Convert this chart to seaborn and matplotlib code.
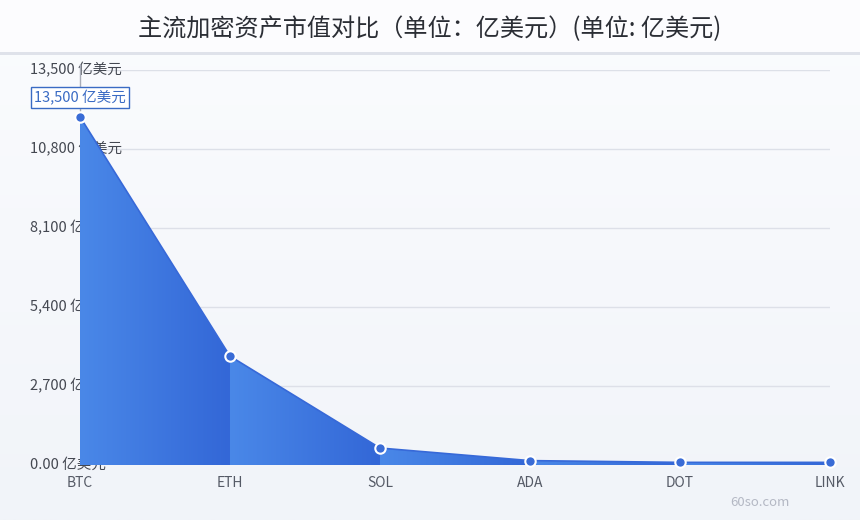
import numpy as np
import pandas as pd
import matplotlib
matplotlib.use("Agg")
import matplotlib.pyplot as plt
import seaborn as sns
from matplotlib.colors import LinearSegmentedColormap
from matplotlib.patches import Polygon, Rectangle

# data (亿美元)
coins = ["BTC", "ETH", "SOL", "ADA", "DOT", "LINK"]
market_cap = [11900, 3720, 580, 150, 90, 90]
y_ticks = [0, 2700, 5400, 8100, 10800, 13500]
y_tick_labels = ["0.00 亿美元", "2,700 亿美元", "5,400 亿美元",
                 "8,100 亿美元", "10,800 亿美元", "13,500 亿美元"]
callout_text = "13,500 亿美元"
title = "主流加密资产市值对比（单位：亿美元）(单位: 亿美元)"

sns.set_theme(style="white")
plt.rcParams["font.family"] = ["Noto Sans CJK SC", "DejaVu Sans"]

df = pd.DataFrame({"coin": coins, "cap": market_cap, "pos": np.arange(len(coins))})

fig = plt.figure(figsize=(8.6, 5.2), dpi=100)

# page background: soft vertical gradient + title bar
bg = fig.add_axes([0, 0, 1, 1], zorder=-10)
bg_cmap = LinearSegmentedColormap.from_list("bg", ["#f1f4f9", "#fbfcfe"])
bg.imshow(np.linspace(0, 1, 256).reshape(-1, 1), cmap=bg_cmap, aspect="auto",
          origin="lower", extent=[0, 1, 0, 1])
bg.add_patch(Rectangle((0, 1 - 52 / 520), 1, 52 / 520, color="#fcfcfe", lw=0))
bg.add_patch(Rectangle((0, 1 - 55 / 520), 1, 3 / 520, color="#dfe2ea", lw=0))
bg.set_xlim(0, 1)
bg.set_ylim(0, 1)
bg.axis("off")

ax = fig.add_axes([80 / 860, 1 - 465 / 520, 750 / 860, 395 / 520])
ax.patch.set_alpha(0)

# gradient area, one piece per segment
fill_cmap = LinearSegmentedColormap.from_list("fill", ["#4a88e8", "#3367d7"])
grad = np.linspace(0, 1, 256).reshape(1, -1)
for i in range(len(coins) - 1):
    verts = [(i, 0), (i, market_cap[i]), (i + 1, market_cap[i + 1]), (i + 1, 0)]
    poly = Polygon(verts, closed=True, facecolor="none", edgecolor="none",
                   transform=ax.transData)
    ax.add_patch(poly)
    im = ax.imshow(grad, cmap=fill_cmap, aspect="auto", origin="lower",
                   extent=[i, i + 1, 0, max(market_cap[i], market_cap[i + 1])],
                   zorder=1)
    im.set_clip_path(poly)

sns.lineplot(data=df, x="pos", y="cap", ax=ax, color="#3769d8", lw=1.2,
             zorder=2)
ax.plot(df["pos"], df["cap"], "o", ms=7.5, mfc="#3a6cd6", mec="white", mew=1.5,
        zorder=4, clip_on=False)

ax.set_xlim(0, len(coins) - 1)
ax.set_ylim(0, 13500)

# grid lines
for t in y_ticks[1:]:
    ax.axhline(t, color="#dde0e8", lw=1, zorder=0.5)

# y labels sit left, partly under the area fill
for t, lab in zip(y_ticks, y_tick_labels):
    ax.text(-50 / 150, t, lab, ha="left", va="center", fontsize=10.5,
            color="#444851", zorder=0.8, clip_on=False)

ax.set_yticks([])
ax.set_xticks(df["pos"])
ax.set_xticklabels(coins, fontsize=10, color="#555a66")
ax.tick_params(axis="x", length=0, pad=8)
ax.set_xlabel("")
ax.set_ylabel("")
for s in ax.spines.values():
    s.set_visible(False)

# callout on the first point
ax.plot([0, 0], [market_cap[0], 13700], color="#a9adb8", lw=1, zorder=3,
        clip_on=False)
ax.annotate(callout_text, xy=(0, market_cap[0]), xytext=(0, 19),
            textcoords="offset pixels", ha="center", va="center",
            fontsize=10.5, color="#3a6bc4", zorder=5,
            bbox=dict(boxstyle="square,pad=0.2", fc="white", ec="#3a6bc4", lw=1))

fig.text(0.5, 1 - 29 / 520, title, ha="center", va="center", fontsize=17.4,
         color="#2b2e35")
fig.text(760 / 860, 1 - 502 / 520, "60so.com", ha="center", va="center",
         fontsize=9.5, color="#b4b8c4")

fig.savefig("out.png", dpi=100)
